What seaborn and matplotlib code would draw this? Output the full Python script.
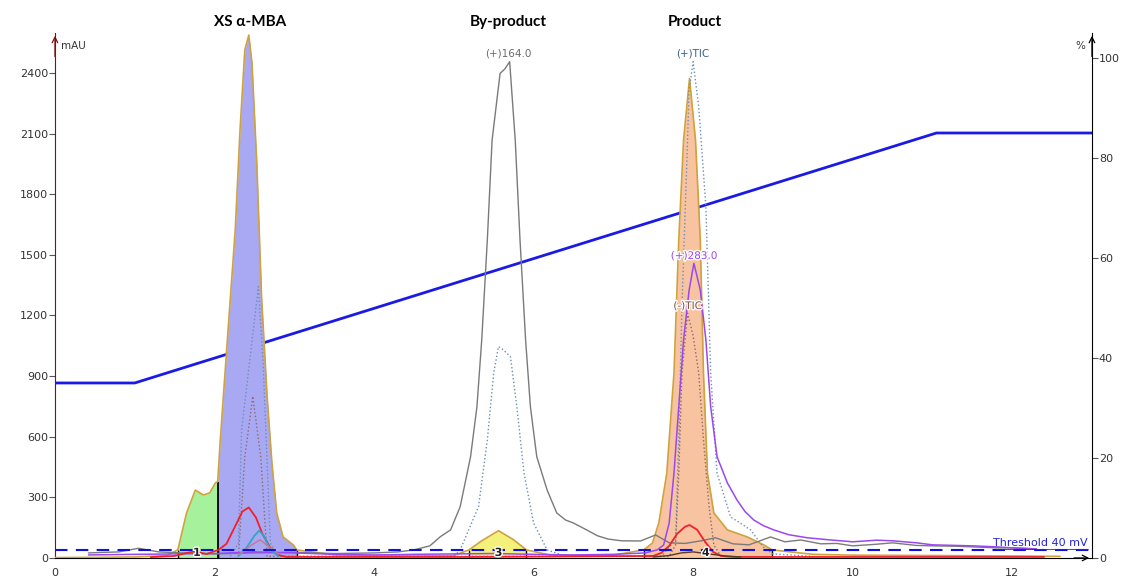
import matplotlib
matplotlib.use("Agg")
import matplotlib.pyplot as plt
import matplotlib.patheffects as pe
import seaborn as sns
import numpy as np

# UV trace (mAU) - filled peaks are cut from this one
uv_time = [0, 0.5, 1.0, 1.4, 1.54, 1.65, 1.76, 1.86, 1.94, 2.01, 2.04, 2.07, 2.17, 2.26, 2.32, 2.38,
           2.43, 2.47, 2.53, 2.59, 2.66, 2.72, 2.78, 2.86, 2.99, 3.03, 3.5, 4.0, 4.5, 5.0, 5.19, 5.35,
           5.56, 5.75, 5.91, 6.2, 6.6, 7.0, 7.38, 7.49, 7.57, 7.67, 7.76, 7.82, 7.88, 7.955, 8.03,
           8.09, 8.13, 8.18, 8.26, 8.43, 8.68, 8.89, 8.99, 9.5, 10.0, 11.0, 12.0, 12.6]
uv_mau = [2, 3, 5, 12, 40, 223, 336, 312, 322, 371, 378, 569, 1128, 1623, 2118, 2514,
          2588, 2449, 1955, 1291, 797, 470, 223, 104, 64, 40, 15, 12, 10, 12, 40, 85,
          135, 90, 40, 15, 12, 14, 40, 74, 173, 420, 915, 1573, 2068, 2373, 2068,
          1573, 915, 420, 223, 139, 104, 64, 40, 18, 14, 12, 10, 8]

peak_ids = ["1", "2", "3", "4"]
peak_start = [1.54, 2.04, 5.19, 7.38]
peak_end = [2.04, 3.03, 5.91, 8.99]
peak_fill = ["#a6f29c", "#a9a9f3", "#f4f07c", "#f8c3a0"]

# gradient (%B)
grad_time = [0, 1.0, 11.05, 13.0]
grad_pct = [35, 35, 85, 85]

# MS traces
ms164_time = [0.42, 0.8, 1.05, 1.3, 1.6, 2.0, 2.5, 3.0, 3.5, 4.0, 4.3, 4.5, 4.7, 4.83, 4.96, 5.08,
              5.21, 5.29, 5.35, 5.42, 5.48, 5.54, 5.58, 5.64, 5.70, 5.77, 5.83, 5.90, 5.96, 6.04,
              6.17, 6.29, 6.40, 6.50, 6.67, 6.8, 6.93, 7.1, 7.34, 7.53, 7.7, 7.9, 8.1, 8.28, 8.5,
              8.7, 8.97, 9.15, 9.35, 9.6, 9.8, 10.0, 10.3, 10.5, 10.8, 11.0, 11.3, 11.5, 11.8,
              12.0, 12.3]
ms164_mau = [25, 30, 48, 30, 25, 20, 25, 28, 22, 25, 30, 40, 60, 105, 139, 254,
             501, 749, 1079, 1573, 2068, 2266, 2398, 2420, 2456, 2068, 1573, 1079, 749, 501,
             336, 223, 188, 173, 138, 110, 94, 85, 84, 114, 75, 72, 85, 100, 70,
             65, 104, 80, 89, 70, 72, 60, 68, 75, 62, 60, 58, 55, 50,
             50, 45]

ms283_time = [0.42, 1.0, 1.5, 2.0, 2.5, 3.0, 3.5, 4.0, 4.5, 5.0, 5.5, 6.0, 6.5, 7.0, 7.4, 7.55,
              7.63, 7.70, 7.76, 7.82, 7.88, 7.95, 8.01, 8.09, 8.16, 8.22, 8.30, 8.43, 8.55, 8.65,
              8.76, 8.88, 9.01, 9.2, 9.43, 9.7, 10.0, 10.3, 10.5, 10.8, 11.0, 11.3, 11.5, 11.8,
              12.0, 12.3]
ms283_mau = [15, 18, 20, 22, 30, 25, 18, 15, 18, 20, 22, 18, 15, 18, 25, 40,
             64, 173, 420, 749, 1079, 1326, 1458, 1326, 1079, 749, 501, 371, 287, 230,
             188, 160, 139, 115, 100, 90, 80, 88, 85, 75, 65, 62, 60, 55,
             50, 45]

tic_pos_time = [2.2, 2.30, 2.34, 2.55, 2.61, 2.70, 2.8, 5.0, 5.08, 5.31, 5.42, 5.50, 5.56, 5.62,
                5.71, 5.79, 5.88, 6.00, 6.17, 6.4, 7.6, 7.78, 7.82, 7.86, 7.93, 7.95, 8.0, 8.07,
                8.16, 8.22, 8.30, 8.47, 8.6, 8.72, 8.88, 9.0, 9.5]
tic_pos_mau = [8, 74, 633, 1343, 963, 74, 8, 8, 40, 254, 584, 915, 1046, 1030,
               996, 749, 420, 173, 40, 8, 8, 89, 584, 1243, 2068, 2316, 2456, 2233,
               1738, 915, 420, 203, 170, 139, 54, 20, 8]

tic_neg_time = [2.3, 2.38, 2.48, 2.58, 2.66, 7.7, 7.78, 7.82, 7.86, 7.93, 8.00, 8.07, 8.13, 8.20, 8.26, 8.35]
tic_neg_mau = [8, 500, 800, 500, 8, 8, 64, 420, 915, 1211, 1100, 915, 584, 252, 64, 8]

# small UV channels
red_time = [1.2, 1.5, 1.65, 1.75, 1.9, 2.05, 2.15, 2.25, 2.35, 2.43, 2.52, 2.6, 2.7, 2.8, 2.9,
            5.2, 7.5, 7.6, 7.7, 7.8, 7.9, 7.955, 8.05, 8.15, 8.25, 8.35, 8.5, 12.4]
red_mau = [4, 10, 25, 32, 20, 40, 70, 150, 230, 250, 200, 120, 50, 15, 5,
           5, 10, 25, 60, 120, 155, 163, 140, 80, 30, 10, 5, 5]
teal_time = [2.3, 2.4, 2.5, 2.56, 2.62, 2.7, 2.8]
teal_mau = [10, 50, 110, 135, 110, 40, 10]
mauve_time = [2.3, 2.45, 2.57, 2.67, 2.8]
mauve_mau = [15, 60, 90, 60, 20]
brown_time = [7.5, 7.7, 7.85, 8.0, 8.2, 8.4, 8.6]
brown_mau = [5, 12, 25, 30, 20, 10, 5]

threshold = 40

sns.set_style("white")
plt.rcParams["font.family"] = ["DejaVu Sans"]

fig = plt.figure(figsize=(11.24, 5.85), dpi=100)
ax = fig.add_axes([0.0489, 0.0462, 0.9226, 0.8974])
ax2 = ax.twinx()
ax.set_zorder(2)
ax.patch.set_visible(False)

uv_t = np.array(uv_time)
uv_y = np.array(uv_mau)
for pid, a, b, col in zip(peak_ids, peak_start, peak_end, peak_fill):
    m = (uv_t >= a) & (uv_t <= b)
    ax.fill_between(uv_t[m], 0, uv_y[m], color=col, lw=0, zorder=1)
    ax.vlines([a, b], 0, threshold, color="black", lw=1, zorder=3)
ax.vlines(peak_end[0], 0, uv_mau[uv_time.index(peak_end[0])], color="black", lw=1.3, zorder=3)

sns.lineplot(x=uv_time, y=uv_mau, ax=ax, color="#cfa23c", lw=1.2, estimator=None, sort=False, zorder=4)
sns.lineplot(x=ms164_time, y=ms164_mau, ax=ax, color="#7a7a7a", lw=1, estimator=None, sort=False, zorder=4)
sns.lineplot(x=tic_pos_time, y=tic_pos_mau, ax=ax, color="#6d8db5", lw=1, linestyle=":", estimator=None, sort=False, zorder=4)
sns.lineplot(x=tic_neg_time, y=tic_neg_mau, ax=ax, color="#8a6a6a", lw=1, linestyle=":", estimator=None, sort=False, zorder=4)
sns.lineplot(x=ms283_time, y=ms283_mau, ax=ax, color="#9a48ee", lw=1.1, estimator=None, sort=False, zorder=4)
sns.lineplot(x=red_time, y=red_mau, ax=ax, color="#f0202c", lw=1.3, estimator=None, sort=False, zorder=5)
sns.lineplot(x=teal_time, y=teal_mau, ax=ax, color="#35a3c4", lw=1.3, estimator=None, sort=False, zorder=5)
sns.lineplot(x=mauve_time, y=mauve_mau, ax=ax, color="#c27a98", lw=1.1, estimator=None, sort=False, zorder=5)
sns.lineplot(x=brown_time, y=brown_mau, ax=ax, color="#5a3a20", lw=1, estimator=None, sort=False, zorder=5)

ax.axhline(threshold, color="#1010e0", lw=1.5, ls=(0, (6, 4)), zorder=6)
ax.text(12.95, threshold + 8, "Threshold 40 mV", color="#2424d8", fontsize=8, ha="right", va="bottom",
        zorder=7)
ax.hlines(threshold + 2, 11.8, 12.95, color="#2424d8", lw=0.6, zorder=7)

for pid, a, b in zip(peak_ids, peak_start, peak_end):
    if pid == "2":
        continue
    xm = {"1": 1.78, "3": 5.56, "4": 8.16}[pid]
    ax.text(xm, 25, pid, fontsize=8, fontweight="bold", ha="center", va="center", color="#202020", zorder=8,
            path_effects=[pe.withStroke(linewidth=2, foreground="white")])

sns.lineplot(x=grad_time, y=grad_pct, ax=ax2, color="#1a1ae6", lw=2, estimator=None, sort=False)

ax.set_xlim(0, 13)
ax.set_ylim(0, 2598)
ax2.set_ylim(0, 105)
ax.set_xticks(range(0, 13, 2))
ax.set_yticks(range(0, 2401, 300))
ax2.set_yticks(range(0, 101, 20))
ax.set_xlabel("")
ax.set_ylabel("")
ax2.set_ylabel("")

for s in ["top"]:
    ax.spines[s].set_visible(False)
    ax2.spines[s].set_visible(False)
ax.spines["left"].set_color("#7a1010")
ax.spines["bottom"].set_color("black")
ax2.spines["right"].set_color("black")
ax2.spines["left"].set_visible(False)
ax2.spines["bottom"].set_visible(False)
ax.spines["right"].set_visible(False)

ax.tick_params(axis="y", direction="out", length=4, width=0.8, color="#555555", labelsize=8,
               labelcolor="#333333", pad=1)
ax.tick_params(axis="x", direction="out", length=4, width=0.8, color="#555555", labelsize=8,
               labelcolor="#333333", pad=3)
ax2.tick_params(axis="y", direction="out", length=4, width=0.8, color="#555555", labelsize=8,
                labelcolor="#333333", pad=1)

arrow = dict(arrowstyle="->", lw=0.9, mutation_scale=10)
ax.annotate("", xy=(0, 1.0), xytext=(0, 0.95), xycoords="axes fraction",
            arrowprops=dict(arrow, color="#7a1010"))
ax.annotate("", xy=(1.0, 1.0), xytext=(1.0, 0.95), xycoords="axes fraction",
            arrowprops=dict(arrow, color="black"))
ax.annotate("", xy=(1.0, 0), xytext=(0.98, 0), xycoords="axes fraction",
            arrowprops=dict(arrow, color="black"))

ax.text(0.006, 0.985, "mAU", transform=ax.transAxes, fontsize=7.5, color="#333333", ha="left", va="top")
ax.text(0.994, 0.985, "%", transform=ax.transAxes, fontsize=7.5, color="#333333", ha="right", va="top")

ax.text(5.68, 2470, "(+)164.0", fontsize=7.5, color="#6a6a6a", ha="center", va="bottom", zorder=8)
ax.text(8.0, 2470, "(+)TIC", fontsize=7.5, color="#3d5f8a", ha="center", va="bottom", zorder=8)
ax.text(8.01, 1470, "(+)283.0", fontsize=7.5, color="#9a48ee", ha="center", va="bottom", zorder=8,
        path_effects=[pe.withStroke(linewidth=2, foreground="white")])
ax.text(7.93, 1222, "(-)TIC", fontsize=7.5, color="#7a5050", ha="center", va="bottom", zorder=8,
        path_effects=[pe.withStroke(linewidth=2, foreground="white")])

title_font = dict(family=["Lato", "DejaVu Sans"], fontsize=11, fontweight="bold", ha="center",
                  va="center", color="black")
ax.text(2.45, 2652, "XS α-MBA", clip_on=False, **title_font)
ax.text(5.68, 2652, "By-product", clip_on=False, **title_font)
ax.text(8.02, 2652, "Product", clip_on=False, **title_font)

fig.savefig("out.png", dpi=100)
plt.close()
